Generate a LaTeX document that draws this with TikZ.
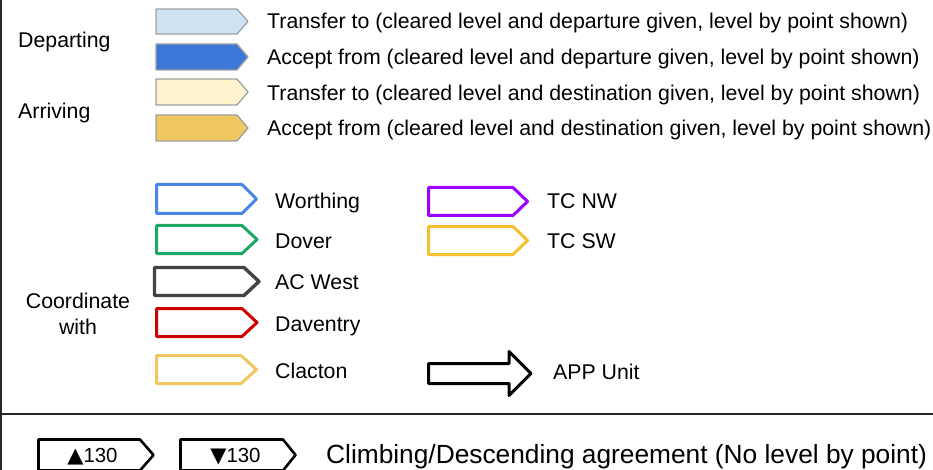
\documentclass[tikz,border=0pt]{standalone}
\usepackage{fontspec}
\setmainfont{Liberation Sans}
\newfontfamily\symfont{DejaVu Sans}
\definecolor{depT}{HTML}{CFE2F3}
\definecolor{depA}{HTML}{3C78D8}
\definecolor{arrT}{HTML}{FFF2CC}
\definecolor{arrA}{HTML}{F1C762}
\definecolor{legGray}{HTML}{A0A0A0}
\definecolor{cWorthing}{HTML}{4A86E8}
\definecolor{cDover}{HTML}{1CA764}
\definecolor{cACWest}{HTML}{434343}
\definecolor{cDaventry}{HTML}{CC0000}
\definecolor{cClacton}{HTML}{F1C75F}
\definecolor{cTCNW}{HTML}{9900FF}
\definecolor{cTCSW}{HTML}{F5C12E}
\newcommand\pentshape[6]{\draw[#1] (#2,#3) -- (#4,#3) -- (#5,{(#3+#6)/2}) -- (#4,#6) -- (#2,#6) -- cycle;}
\begin{document}
\begin{tikzpicture}[x=1pt,y=-1pt,line join=round,
  txt/.style={anchor=base west,inner sep=0pt,font=\fontsize{21.3}{25}\selectfont},
  ctxt/.style={anchor=base,inner sep=0pt,font=\fontsize{21.3}{25}\selectfont},
  btxt/.style={anchor=base,inner sep=0pt,font=\fontsize{20.4}{24}\selectfont},
  bigtxt/.style={anchor=base west,inner sep=0pt,font=\fontsize{26.3}{30}\selectfont},
  legbox/.style={draw=legGray,line width=1.3pt},
  coordbox/.style={line width=3pt},
  frame/.style={draw=black!85,line width=1.5pt}]
\useasboundingbox (0,0) rectangle (933,470);
% frame lines
\draw[frame] (1,0) -- (1,470);
\draw[frame] (0,414) -- (933,414);
% departing / arriving legend
\pentshape{legbox,fill=depT}{156}{9}{237}{248}{34}
\pentshape{legbox,fill=depA}{156}{44}{237}{248}{70}
\pentshape{legbox,fill=arrT}{156}{79}{237}{248}{105}
\pentshape{legbox,fill=arrA}{156}{115}{237}{248}{141}
\node[txt] (dep) at (18,48) {Departing};
\node[txt] (arr) at (18,119) {Arriving};
\node[txt] (t1) at (267,29) {Transfer to (cleared level and departure given, level by point shown)};
\node[txt] (t2) at (267,65) {Accept from (cleared level and departure given, level by point shown)};
\node[txt] (t3) at (267,101) {Transfer to (cleared level and destination given, level by point shown)};
\node[txt] (t4) at (267,136) {Accept from (cleared level and destination given, level by point shown)};
% coordinate with
\node[ctxt] (coord1) at (78,308) {Coordinate};
\node[ctxt] (coord2) at (78,334) {with};
\pentshape{coordbox,draw=cWorthing}{156.5}{184.5}{242}{256.5}{213.5}
\pentshape{coordbox,draw=cDover}{156.5}{225.5}{242}{257}{253.5}
\pentshape{coordbox,draw=cACWest,line width=3.4pt}{154.5}{267.5}{244}{259}{295.5}
\pentshape{coordbox,draw=cDaventry}{156.5}{308.5}{242}{257}{336.5}
\pentshape{coordbox,draw=cClacton}{156.5}{355.5}{241}{256.5}{383.5}
\pentshape{coordbox,draw=cTCNW}{428.5}{187.5}{513}{527.5}{215.5}
\pentshape{coordbox,draw=cTCSW}{428.5}{226.5}{513}{527.5}{254.5}
\node[txt] (worthing) at (275,208) {Worthing};
\node[txt] (dover) at (275,248) {Dover};
\node[txt] (acwest) at (275,289) {AC West};
\node[txt] (daventry) at (275,331) {Daventry};
\node[txt] (clacton) at (275,378) {Clacton};
\node[txt] (tcnw) at (547,209) {TC NW};
\node[txt] (tcsw) at (547,248) {TC SW};
% APP unit block arrow
\draw[line width=3pt] (428.5,363.5) -- (509,363.5) -- (509,351.5) -- (531,373.5) -- (509,395.5) -- (509,383.5) -- (428.5,383.5) -- cycle;
\node[txt] (app) at (553,379) {APP Unit};
% climbing / descending
\pentshape{line width=2.6pt}{38.5}{439.5}{140}{153.5}{470.5}
\pentshape{line width=2.6pt}{180.5}{439.5}{283}{295.5}{470.5}
\node[btxt] (climb) at (92.5,462) {{\symfont\fontsize{21}{24}\selectfont ▲}130};
\node[btxt] (desc) at (235.5,462) {{\symfont\fontsize{21}{24}\selectfont ▼}130};
\node[bigtxt] (agree) at (326,463) {Climbing/Descending agreement (No level by point)};
\end{tikzpicture}
\end{document}
